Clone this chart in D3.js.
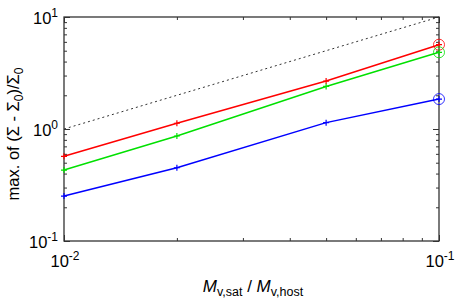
<!DOCTYPE html>
<html><head><meta charset="utf-8">
<script src="https://cdn.jsdelivr.net/npm/d3@7"></script>
<style>
body{margin:0;background:#fff;}
svg{display:block;font-family:"Liberation Sans",Arial,sans-serif;}
</style></head>
<body><svg id="c" width="463" height="303"></svg>
<script>
const xValues = [0.01, 0.02, 0.05, 0.1];
const redValues = [0.570, 1.125, 2.68, 5.66];
const greenValues = [0.430, 0.866, 2.40, 4.84];
const blueValues = [0.252, 0.451, 1.14, 1.85];
const refLineX = [0.01, 0.1];
const refLineY = [1, 10];
const xTickExps = [-2, -1];
const yTickExps = [-1, 0, 1];

const series = [
  {values: redValues, color: "#ff0000"},
  {values: greenValues, color: "#00e000"},
  {values: blueValues, color: "#0000ff"}
];

const svg = d3.select("#c");
const L = 64, R = 439, T = 17, B = 241;
const x = d3.scaleLog().domain([0.01, 0.1]).range([L, R]);
const y = d3.scaleLog().domain([0.1, 10]).range([B, T]);

const minorX = [];
for (let k = 2; k <= 9; k++) minorX.push(k * 0.01);
const minorY = [];
[0.1, 1].forEach(b => { for (let k = 2; k <= 9; k++) minorY.push(k * b); });

const axisColor = "#333";
function styleAxis(g) {
  g.select(".domain").remove();
  g.selectAll("line").attr("stroke", axisColor).attr("stroke-width", 1);
  g.selectAll("text").remove();
}
svg.append("g").attr("transform", `translate(0,${B})`).call(d3.axisBottom(x).tickValues(xTickExps.map(e => Math.pow(10, e))).tickSize(-6)).call(styleAxis);
svg.append("g").attr("transform", `translate(0,${B})`).call(d3.axisBottom(x).tickValues(minorX).tickSize(-3)).call(styleAxis);
svg.append("g").attr("transform", `translate(0,${T})`).call(d3.axisTop(x).tickValues(xTickExps.map(e => Math.pow(10, e))).tickSize(-6)).call(styleAxis);
svg.append("g").attr("transform", `translate(0,${T})`).call(d3.axisTop(x).tickValues(minorX).tickSize(-3)).call(styleAxis);
svg.append("g").attr("transform", `translate(${L},0)`).call(d3.axisLeft(y).tickValues(yTickExps.map(e => Math.pow(10, e))).tickSize(-6)).call(styleAxis);
svg.append("g").attr("transform", `translate(${L},0)`).call(d3.axisLeft(y).tickValues(minorY).tickSize(-3)).call(styleAxis);
svg.append("g").attr("transform", `translate(${R},0)`).call(d3.axisRight(y).tickValues(yTickExps.map(e => Math.pow(10, e))).tickSize(-6)).call(styleAxis);
svg.append("g").attr("transform", `translate(${R},0)`).call(d3.axisRight(y).tickValues(minorY).tickSize(-3)).call(styleAxis);

svg.append("rect").attr("x", L).attr("y", T).attr("width", R - L).attr("height", B - T)
  .attr("fill", "none").attr("stroke", axisColor).attr("stroke-width", 1.3);

function powLabel(sel, e) {
  sel.append("tspan").text("10");
  sel.append("tspan").attr("dy", -7).attr("font-size", 12).text(String(e));
}
yTickExps.forEach(e => {
  const t = svg.append("text").attr("x", L - 6).attr("y", y(Math.pow(10, e)) + 7)
    .attr("text-anchor", "end").attr("font-size", 16.5).attr("fill", "#000");
  powLabel(t, e);
});
xTickExps.forEach(e => {
  const t = svg.append("text").attr("x", x(Math.pow(10, e)) + 1).attr("y", 267)
    .attr("text-anchor", "middle").attr("font-size", 16.5).attr("fill", "#000");
  powLabel(t, e);
});

const line = d3.line().x(d => x(d[0])).y(d => y(d[1]));
svg.append("path").datum(refLineX.map((v, i) => [v, refLineY[i]]))
  .attr("d", line).attr("fill", "none").attr("stroke", "#333").attr("stroke-width", 1)
  .attr("stroke-dasharray", "2,3");

series.forEach(s => {
  const pts = xValues.map((v, i) => [v, s.values[i]]);
  svg.append("path").datum(pts).attr("d", line).attr("fill", "none")
    .attr("stroke", s.color).attr("stroke-width", 1.5);
  pts.forEach(p => {
    const px = x(p[0]), py = y(p[1]);
    svg.append("path").attr("d", `M${px-3},${py}H${px+3}M${px},${py-3}V${py+3}`)
      .attr("stroke", s.color).attr("stroke-width", 1.2);
  });
  const last = pts[pts.length - 1];
  svg.append("circle").attr("cx", x(last[0])).attr("cy", y(last[1])).attr("r", 5.5)
    .attr("fill", "none").attr("stroke", s.color).attr("stroke-width", 0.8);
});

const xt = svg.append("text").attr("x", 253).attr("y", 292).attr("text-anchor", "middle")
  .attr("font-size", 17).attr("fill", "#000");
xt.append("tspan").attr("font-style", "italic").text("M");
xt.append("tspan").attr("font-size", 12.5).attr("dy", 4).text("v,sat");
xt.append("tspan").attr("dy", -4).text(" / ");
xt.append("tspan").attr("font-style", "italic").text("M");
xt.append("tspan").attr("font-size", 12.5).attr("dy", 4).text("v,host");

const yt = svg.append("text").attr("transform", "translate(19,134) rotate(-90)")
  .attr("text-anchor", "middle").attr("font-size", 16.5).attr("fill", "#000");
yt.append("tspan").text("max. of (Σ - Σ");
yt.append("tspan").attr("font-size", 12).attr("dy", 4).text("0");
yt.append("tspan").attr("dy", -4).text(")/Σ");
yt.append("tspan").attr("font-size", 12).attr("dy", 4).text("0");
</script></body></html>
